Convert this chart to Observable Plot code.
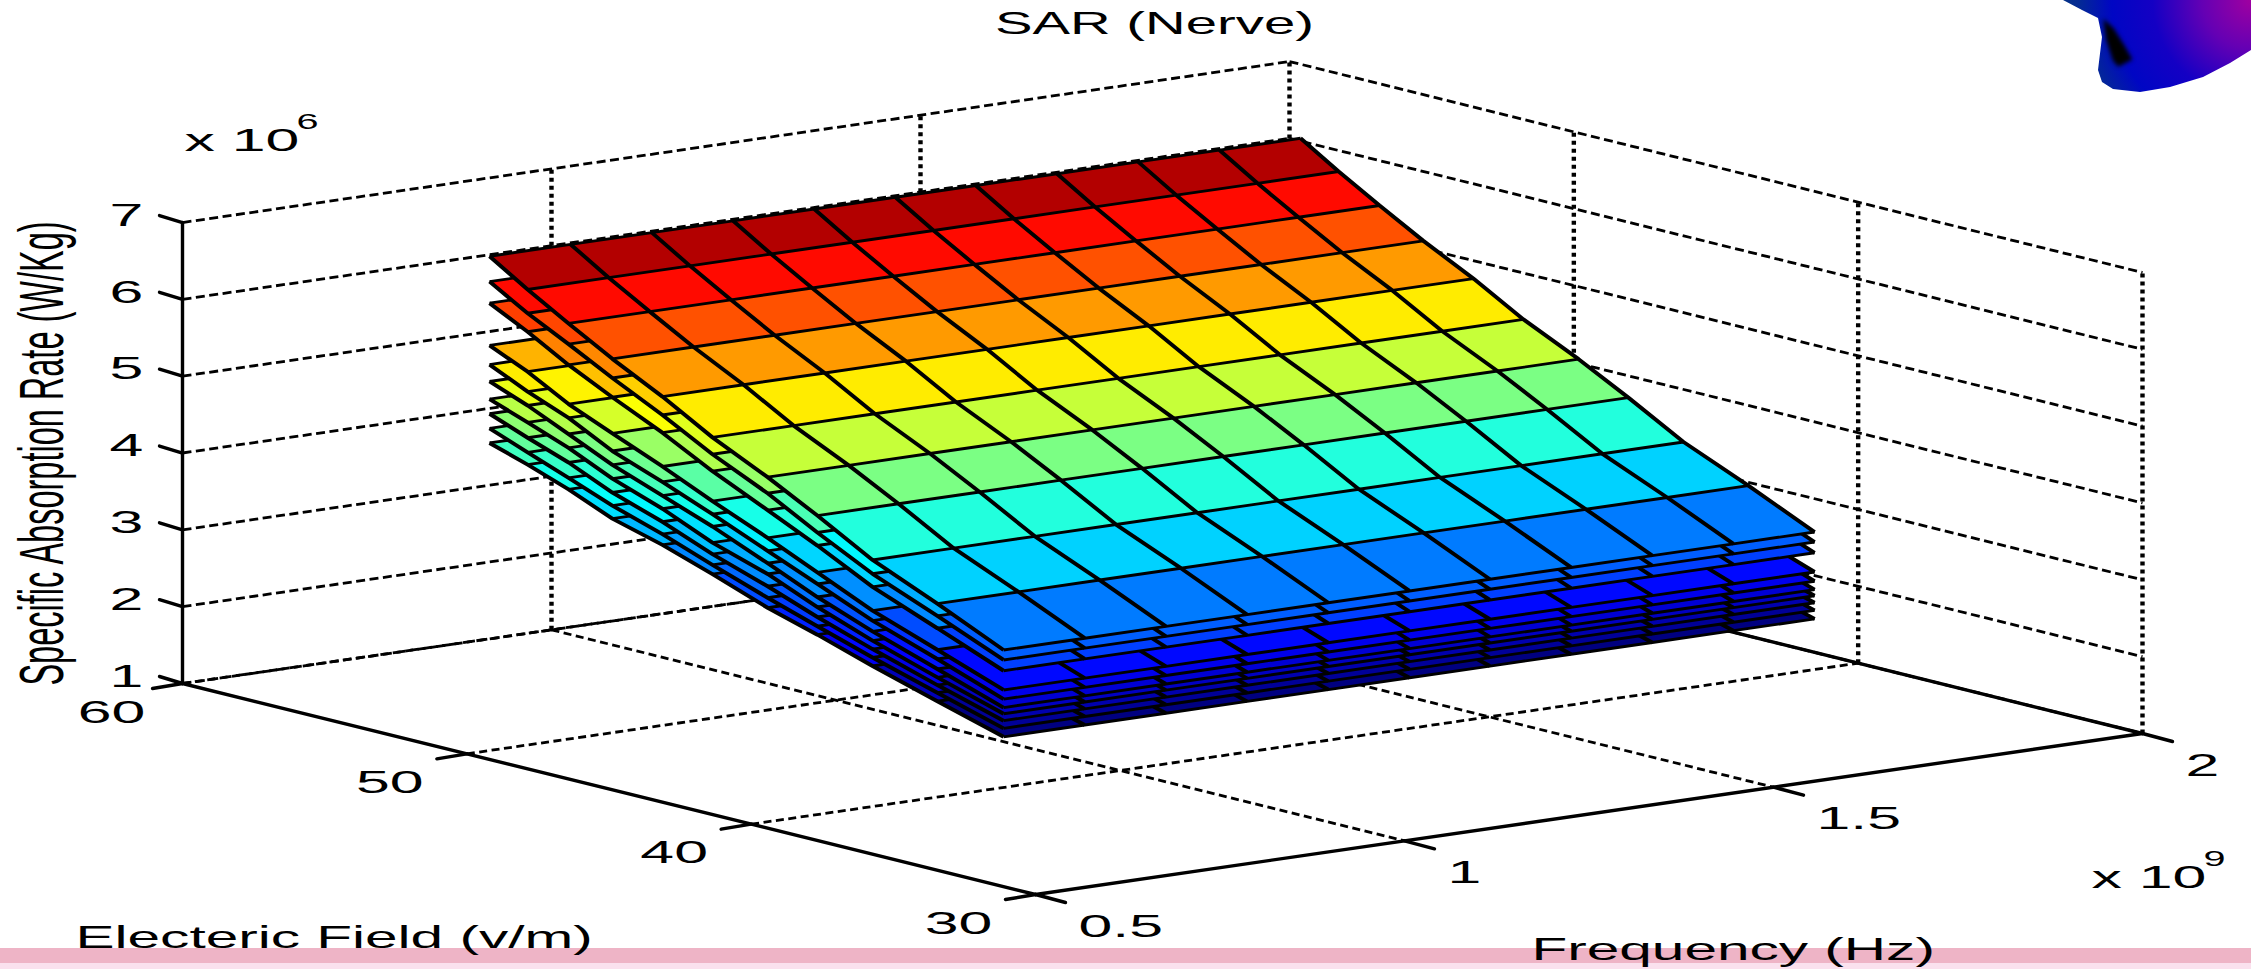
<!DOCTYPE html>
<html><head><meta charset="utf-8">
<script src="https://cdn.jsdelivr.net/npm/d3@7"></script>
<script src="https://cdn.jsdelivr.net/npm/@observablehq/plot@0.6"></script>
<style>
html,body{margin:0;padding:0;background:#fff;overflow:hidden}
#wrap{position:relative;width:2251px;height:969px}
#blob{position:absolute;left:2060px;top:0;width:191px;height:94px;
 clip-path:polygon(3px 0,22px 10px,38px 18px,42px 37px,38px 70px,42px 82px,53px 89px,80px 92px,110px 87px,143px 77px,170px 63px,191px 50px,191px 0);
 background:radial-gradient(circle 205px at 100% 0%,#a000a0 0%,#6400b4 24%,#1400c4 48%,#0006c4 68%,#042a94 84%,#063a78 100%)}
#spotwrap{position:absolute;left:2098px;top:14px;width:44px;height:60px;filter:blur(2px)}
#spot{width:44px;height:60px;background:#000;
 clip-path:polygon(12% 8%,36% 24%,62% 55%,78% 76%,46% 88%,34% 78%,18% 42%)}
</style></head><body><div id="wrap"></div>
<script>
// Data
const frequencyGHz = [0.916,1.026,1.136,1.246,1.356,1.466,1.575,1.685,1.795,1.905,2.015]; // x 10^9 Hz
const fieldVm = [60,58.66,57.22,55.68,53.92,52.16,50.22,48.47,46.53,44.25,41.92];
// SAR (x 10^6 W/Kg): one list per sheet, one value per field row
const sheet1  = [5.98,5.67,5.36,5.04,4.71,4.34,4.00,3.66,3.26,2.90,2.51];
const sheet2  = [5.65,5.36,5.09,4.79,4.47,4.12,3.79,3.44,3.08,2.74,2.38];
const sheet3  = [5.37,5.12,4.82,4.54,4.24,3.90,3.57,3.27,2.91,2.58,2.24];
const sheet4  = [4.82,4.60,4.31,4.07,3.80,3.51,3.21,2.92,2.60,2.30,1.99];
const sheet5  = [4.57,4.34,4.13,3.84,3.60,3.34,3.04,2.77,2.47,2.18,1.87];
const sheet6  = [4.35,4.16,3.92,3.66,3.42,3.18,2.88,2.60,2.33,2.05,1.76];
const sheet7  = [4.12,3.94,3.74,3.48,3.25,2.97,2.74,2.47,2.21,1.94,1.68];
const sheet8  = [3.93,3.74,3.55,3.30,3.08,2.82,2.58,2.34,2.10,1.84,1.59];
const sheet9  = [3.74,3.55,3.35,3.13,2.92,2.68,2.43,2.22,1.99,1.74,1.49];
const sheet10 = [3.55,3.39,3.20,2.96,2.78,2.56,2.30,2.11,1.88,1.63,1.38];
const sheets = [sheet1,sheet2,sheet3,sheet4,sheet5,sheet6,sheet7,sheet8,sheet9,sheet10];
const zTicks = [1,2,3,4,5,6,7];
const eTicks = [30,40,50,60];
const fTicks = [0.5,1,1.5,2];
const fTickLabels = ["0.5","1","1.5","2"];

// Orthographic view of the 3-D box
const O = [1035,894], FV = [1107,-161], EV = [-853,-211], ZV = [0,-76.83];
function P(f,e,z){
  const u=(f-0.5)/1.5, v=(e-30)/30, w=z-1;
  return [O[0]+u*FV[0]+v*EV[0]+w*ZV[0], O[1]+u*FV[1]+v*EV[1]+w*ZV[1]];
}
function seg(id,a,b){const p=P(...a),q=P(...b);return [{id,x:p[0],y:p[1]},{id,x:q[0],y:q[1]}];}

// surface marks, bottom sheet first: fill, then both sets of mesh lines
const sheetMarks=[];
for(let s=sheets.length-1;s>=0;s--){
  const Z=sheets[s], cells=[], alongE=[], alongF=[];
  for(let r=0;r<fieldVm.length-1;r++) for(let c=0;c<frequencyGHz.length-1;c++){
    const id=`${r}-${c}`;
    [[c,r],[c+1,r],[c+1,r+1],[c,r+1]].forEach(([i,j])=>{
      const p=P(frequencyGHz[i],fieldVm[j],Z[j]);
      cells.push({id,x:p[0],y:p[1],sar:Z[r+1]});
    });
  }
  frequencyGHz.forEach((f,c)=>fieldVm.forEach((e,r)=>{const p=P(f,e,Z[r]);alongE.push({id:c,x:p[0],y:p[1]});}));
  fieldVm.forEach((e,r)=>frequencyGHz.forEach(f=>{const p=P(f,e,Z[r]);alongF.push({id:r,x:p[0],y:p[1]});}));
  sheetMarks.push(
    Plot.line(cells,{x:"x",y:"y",z:"id",fill:"sar",stroke:"none",curve:"linear-closed"}),
    Plot.line(alongF,{x:"x",y:"y",z:"id",stroke:"#000",strokeWidth:2.9,strokeLinejoin:"miter",strokeLinecap:"butt"}),
    Plot.line(alongE,{x:"x",y:"y",z:"id",stroke:"#000",strokeWidth:3.9,strokeLinejoin:"miter",strokeLinecap:"butt"})
  );
}
// grid
const leftWall=zTicks.flatMap(z=>seg("L"+z,[0.5,60,z],[2,60,z]));
const rightWall=zTicks.flatMap(z=>seg("R"+z,[2,60,z],[2,30,z]));
const verticals=[...fTicks.slice(1).map(f=>seg("VF"+f,[f,60,1],[f,60,7])),
                 ...eTicks.slice(0,3).map(e=>seg("VE"+e,[2,e,1],[2,e,7]))].flat();
const floorF=fTicks.slice(1,3).flatMap(f=>seg("FF"+f,[f,60,1],[f,30,1]));
const floorE=eTicks.slice(1).flatMap(e=>seg("FE"+e,[0.5,e,1],[2,e,1]));
const solid=[...seg("a",[0.5,60,1],[0.5,30,1]),...seg("b",[0.5,30,1],[2,30,1]),
             ...seg("c",[0.5,60,1],[0.5,60,7]),...seg("d",[2,30,1],[2,60,1])];
const tick=(id,p,dx,dy)=>[{id,x:p[0],y:p[1]},{id,x:p[0]+dx,y:p[1]+dy}];
const ticks=[...zTicks.flatMap(z=>tick("tz"+z,P(0.5,60,z),-23,-7)),
             ...eTicks.flatMap(e=>tick("te"+e,P(0.5,e,1),-30,5)),
             ...fTicks.flatMap(f=>tick("tf"+f,P(f,30,1),30,8))];
// labels
const zLabels=zTicks.map(z=>{const p=P(0.5,60,z);return{t:String(z),x:p[0]-56,y:p[1]-7}});
const eLabels=eTicks.map(e=>{const p=P(0.5,e,1);return{t:String(e),x:p[0]-(e===60?71:77),y:p[1]+29}});
const fLabels=fTicks.map((f,i)=>{const p=P(f,30,1);return{t:fTickLabels[i],x:p[0]+43,y:p[1]+32}});

const FONT="Liberation Sans";
const txt=(data,o)=>Plot.text(data,{text:"t",x:"x",y:"y",fontFamily:FONT,fontSize:32,fill:"#000",className:"st",...o});
const dash=(data,d,w=2.8)=>Plot.line(data,{x:"x",y:"y",z:"id",stroke:"#000",strokeWidth:w,strokeDasharray:d,strokeLinecap:"butt"});

const chart=Plot.plot({
  width:2251,height:969,margin:0,
  style:{background:"transparent"},
  x:{domain:[0,2251],range:[0,2251],axis:null},
  y:{domain:[0,969],range:[0,969],axis:null},
  color:{type:"linear",domain:[1.38,1.955,3.105,4.255,5.405,5.85],
         range:["#000080","#0000ff","#00ffff","#ffff00","#ff0000","#800000"]},
  marks:[
    Plot.rect([{a:0,b:2251,c:948,d:963}],{x1:"a",x2:"b",y1:"c",y2:"d",fill:"#eeb4c6"}),
    Plot.rect([{a:0,b:2251,c:963,d:969}],{x1:"a",x2:"b",y1:"c",y2:"d",fill:"#fae1ee"}),
    dash(leftWall,"9 4.5"),
    dash(rightWall,"9 4.5"),
    dash(verticals,"4 4",4.4),
    dash(floorF,"8 4.5"),
    dash(floorE,"8 4.5"),
    Plot.line(solid,{x:"x",y:"y",z:"id",stroke:"#000",strokeWidth:3.4}),
    Plot.line(ticks,{x:"x",y:"y",z:"id",stroke:"#000",strokeWidth:3.4}),
    ...sheetMarks,
    txt(zLabels,{lineAnchor:"middle",className:"sn"}),
    txt(eLabels,{lineAnchor:"middle",className:"sn"}),
    txt(fLabels,{lineAnchor:"middle",textAnchor:"start",className:"sn"}),
    txt([{t:"SAR (Nerve)",x:1154,y:33}],{lineAnchor:"bottom",className:"st2"}),
    txt([{t:"x 10",x:184,y:150}],{lineAnchor:"bottom",textAnchor:"start",className:"sn"}),
    txt([{t:"6",x:296,y:128}],{lineAnchor:"bottom",textAnchor:"start",fontSize:22}),
    txt([{t:"x 10",x:2091,y:887}],{lineAnchor:"bottom",textAnchor:"start",className:"sn"}),
    txt([{t:"9",x:2203,y:865}],{lineAnchor:"bottom",textAnchor:"start",fontSize:22}),
    txt([{t:"Electeric Field (v/m)",x:75,y:947}],{lineAnchor:"bottom",textAnchor:"start",className:"sl"}),
    txt([{t:"Frequency (Hz)",x:1531,y:959}],{lineAnchor:"bottom",textAnchor:"start",className:"sl"}),
    Plot.text([{t:"Specific Absorption Rate (W/Kg)",x:62,y:453}],{text:"t",x:"x",y:"y",rotate:-90,lineAnchor:"bottom",fontFamily:FONT,fontSize:32.5,fill:"#000",className:"sy"})
  ]
});
const add=(sel,s)=>chart.querySelectorAll(sel).forEach(t=>t.setAttribute("transform",t.getAttribute("transform")+" "+s));
add(".st text","scale(1.8,1)");
add(".sn text","scale(1.9,1)");
add(".sl text","scale(1.83,1)");
add(".st2 text","scale(1.76,1)");
add(".sy text","scale(1,1.95)");
const wrap=document.getElementById("wrap");
wrap.appendChild(chart);
wrap.insertAdjacentHTML("beforeend",'<div id="blob"></div><div id="spotwrap"><div id="spot"></div></div>');
</script></body></html>
